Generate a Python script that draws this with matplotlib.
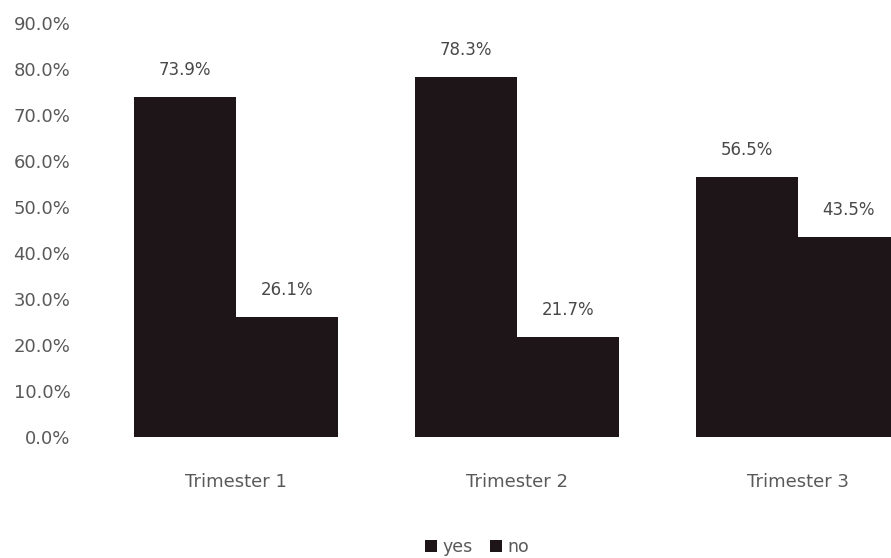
import numpy as np
import matplotlib.pyplot as plt

# === Data ===
categories = ["Trimester 1", "Trimester 2", "Trimester 3"]
yes_vals = [73.9, 78.3, 56.5]
no_vals = [26.1, 21.7, 43.5]
bar_color = "#1d1517"
text_color = "#595959"

plt.rcParams['font.family'] = ['DejaVu Sans']

fig = plt.figure(figsize=(8.91, 5.58), dpi=100)
ax = fig.add_axes([0.107, 0.2168, 0.946, 0.742])

x = np.arange(len(categories))
w = 0.363
b1 = ax.bar(x - w/2, yes_vals, w, color=bar_color, label="yes")
b2 = ax.bar(x + w/2, no_vals, w, color=bar_color, label="no")

for bars, vals in ((b1, yes_vals), (b2, no_vals)):
    ax.bar_label(bars, labels=[f"{v:.1f}%" for v in vals], padding=13,
                 fontsize=12, color="#484848")

ax.set_xlim(-0.5, 2.5)
ax.set_ylim(0, 90)
ax.set_yticks(np.arange(0, 91, 10))
ax.set_yticklabels([f"{v:.1f}%" for v in np.arange(0, 91, 10)])
ax.set_xticks(x)
ax.set_xticklabels(categories)
ax.tick_params(axis='both', length=0, labelsize=13, colors=text_color)
ax.tick_params(axis='y', pad=18)
ax.tick_params(axis='x', pad=26)
for s in ax.spines.values():
    s.set_visible(False)

fig.legend(loc='center', bbox_to_anchor=(0.535, 0.02), ncol=2, frameon=False,
           fontsize=12.5, handlelength=0.7, handleheight=0.7, handletextpad=0.3,
           columnspacing=1.0, labelcolor=text_color)

fig.savefig("out.png", dpi=100)
